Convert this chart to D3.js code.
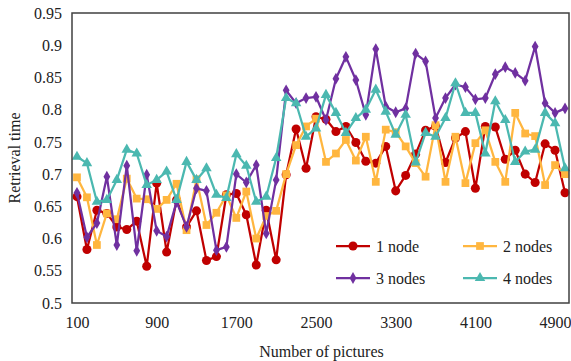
<!DOCTYPE html>
<html>
<head>
<meta charset="utf-8">
<script src="https://cdn.jsdelivr.net/npm/d3@7"></script>
<style>
  html, body { margin: 0; padding: 0; background: #fff; }
  svg { display: block; }
</style>
</head>
<body>
<div id="chart"></div>
<script>
// categories: 100, 200, ... 5000
const pictures = d3.range(1, 51).map((i) => i * 100);
const xTickValues = [100, 900, 1700, 2500, 3300, 4100, 4900];
const yTickValues = [0.5, 0.55, 0.6, 0.65, 0.7, 0.75, 0.8, 0.85, 0.9, 0.95];

const node1 = [
  0.665, 0.583, 0.644, 0.639, 0.618, 0.614, 0.627, 0.557, 0.686, 0.579,
  0.660, 0.618, 0.643, 0.566, 0.572, 0.668, 0.670, 0.637, 0.559, 0.644,
  0.567, 0.699, 0.770, 0.709, 0.789, 0.785, 0.766, 0.774, 0.749, 0.720,
  0.717, 0.743, 0.674, 0.698, 0.731, 0.768, 0.774, 0.718, 0.756, 0.766,
  0.678, 0.774, 0.773, 0.723, 0.737, 0.700, 0.687, 0.747, 0.737, 0.671
];
const node2 = [
  0.695, 0.664, 0.590, 0.639, 0.630, 0.693, 0.662, 0.661, 0.646, 0.660,
  0.685, 0.613, 0.692, 0.621, 0.640, 0.667, 0.632, 0.673, 0.600, 0.635,
  0.643, 0.700, 0.745, 0.774, 0.786, 0.719, 0.732, 0.753, 0.721, 0.758,
  0.688, 0.769, 0.765, 0.743, 0.717, 0.696, 0.776, 0.688, 0.758, 0.686,
  0.748, 0.768, 0.719, 0.688, 0.795, 0.763, 0.759, 0.683, 0.714, 0.700
];
const node3 = [
  0.671, 0.602, 0.624, 0.696, 0.590, 0.713, 0.581, 0.699, 0.612, 0.603,
  0.657, 0.618, 0.678, 0.674, 0.582, 0.587, 0.700, 0.687, 0.714, 0.608,
  0.691, 0.830, 0.810, 0.818, 0.820, 0.784, 0.848, 0.882, 0.846, 0.792,
  0.894, 0.805, 0.796, 0.802, 0.887, 0.875, 0.787, 0.818, 0.839, 0.835,
  0.816, 0.818, 0.855, 0.866, 0.857, 0.845, 0.898, 0.810, 0.795, 0.802
];
const node4 = [
  0.727, 0.717, 0.657, 0.660, 0.691, 0.738, 0.732, 0.683, 0.691, 0.704,
  0.660, 0.719, 0.691, 0.709, 0.668, 0.663, 0.731, 0.713, 0.657, 0.665,
  0.725, 0.818, 0.810, 0.758, 0.771, 0.823, 0.795, 0.764, 0.787, 0.800,
  0.831, 0.797, 0.761, 0.792, 0.718, 0.764, 0.758, 0.787, 0.841, 0.795,
  0.795, 0.732, 0.813, 0.784, 0.719, 0.735, 0.738, 0.795, 0.779, 0.709
];

const series = [
  { name: '1 node', values: node1, color: '#c00000', marker: d3.symbolCircle, size: 64 },
  { name: '2 nodes', values: node2, color: '#ffb63f', marker: d3.symbolSquare, size: 60 },
  { name: '3 nodes', values: node3, color: '#7030a0', marker: d3.symbolDiamond, size: 40 },
  { name: '4 nodes', values: node4, color: '#4bb8b0', marker: d3.symbolTriangle, size: 48 }
];

const W = 571;
const H = 361;
const margin = { top: 13, right: 1, bottom: 58, left: 72 };
const FONT = '"Liberation Serif", "Times New Roman", serif';

const svg = d3.select('#chart').append('svg').attr('width', W).attr('height', H);

const x = d3
  .scalePoint()
  .domain(pictures)
  .range([margin.left, W - margin.right])
  .padding(0.5);
const y = d3
  .scaleLinear()
  .domain([0.5, 0.95])
  .range([H - margin.bottom, margin.top]);

// x axis labels
const xAxis = svg
  .append('g')
  .attr('transform', `translate(0,${H - margin.bottom})`)
  .call(d3.axisBottom(x).tickValues(xTickValues).tickSize(0).tickPadding(14));
xAxis.select('.domain').remove();
xAxis
  .selectAll('.tick text')
  .attr('fill', '#222')
  .attr('font-size', 16)
  .attr('font-family', FONT);

// y axis labels
const yAxis = svg
  .append('g')
  .attr('transform', `translate(${margin.left},0)`)
  .call(d3.axisLeft(y).tickValues(yTickValues).tickSize(0).tickPadding(10).tickFormat((v) => String(+v.toFixed(2))));
yAxis.select('.domain').remove();
yAxis
  .selectAll('.tick text')
  .attr('fill', '#222')
  .attr('font-size', 16)
  .attr('font-family', FONT);

const line = d3
  .line()
  .x((d, i) => x(pictures[i]))
  .y((d) => y(d));

series.forEach((s) => {
  svg
    .append('path')
    .attr('d', line(s.values))
    .attr('fill', 'none')
    .attr('stroke', s.color)
    .attr('stroke-width', 2.25)
    .attr('stroke-linejoin', 'round');

  svg
    .append('g')
    .selectAll('path')
    .data(s.values)
    .join('path')
    .attr('transform', (d, i) => `translate(${x(pictures[i])},${y(d)})`)
    .attr('d', d3.symbol().type(s.marker).size(s.size))
    .attr('fill', s.color);
});

// plot frame
svg
  .append('rect')
  .attr('x', margin.left)
  .attr('y', margin.top)
  .attr('width', W - margin.right - margin.left - 1)
  .attr('height', H - margin.bottom - margin.top)
  .attr('fill', 'none')
  .attr('stroke', '#404040')
  .attr('stroke-width', 1.5);

// legend
const legend = svg.append('g');
series.forEach((s, i) => {
  const lx = i % 2 === 0 ? 336 : 463;
  const ly = i < 2 ? 246 : 278;
  const row = legend.append('g').attr('transform', `translate(${lx},${ly})`);
  row.append('line').attr('x1', 0).attr('x2', 34).attr('stroke', s.color).attr('stroke-width', 2.25);
  row
    .append('path')
    .attr('transform', 'translate(17,0)')
    .attr('d', d3.symbol().type(s.marker).size(s.size))
    .attr('fill', s.color);
  row
    .append('text')
    .attr('x', 40)
    .attr('y', 5.5)
    .attr('fill', '#222')
    .attr('font-size', 16)
    .attr('font-family', FONT)
    .text(s.name);
});

// axis titles
svg
  .append('text')
  .attr('x', (margin.left + W) / 2)
  .attr('y', 357)
  .attr('text-anchor', 'middle')
  .attr('fill', '#222')
  .attr('font-size', 16)
  .attr('font-family', FONT)
  .text('Number of pictures');

svg
  .append('text')
  .attr('transform', `translate(20,${(margin.top + H - margin.bottom) / 2}) rotate(-90)`)
  .attr('text-anchor', 'middle')
  .attr('fill', '#222')
  .attr('font-size', 16)
  .attr('font-family', FONT)
  .text('Retrieval time');
</script>
</body>
</html>
